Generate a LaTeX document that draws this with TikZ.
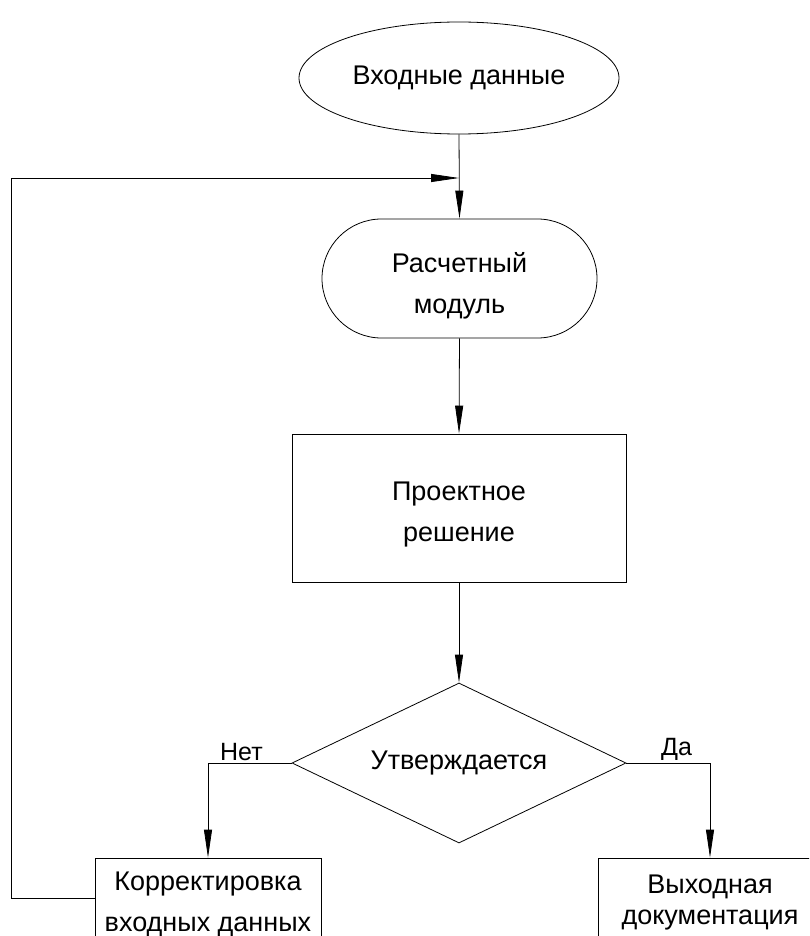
\documentclass[tikz,border=0pt]{standalone}
\usepackage{fontspec}
\setmainfont{Liberation Sans}
\usetikzlibrary{shapes.geometric,shapes.misc,arrows.meta}
\begin{document}
\begin{tikzpicture}[x=1pt,y=-1pt,
  every node/.style={font=\fontsize{27}{41}\selectfont},
  blk/.style={draw, line width=0.8pt, align=center, inner sep=0pt},
  line/.style={line width=0.8pt},
  arr/.style={line, -{Triangle[length=28pt,width=8pt]}},
  lbl/.style={font=\fontsize{25}{28}\selectfont, inner sep=2pt}]
\useasboundingbox (0,0) rectangle (809,936);
\clip (0,0) rectangle (809,936);

% blocks of the flow chart
\node[blk, ellipse, minimum width=320, minimum height=112] (in) at (459,78) {Входные данные};
\node[blk, rounded rectangle, minimum width=275, minimum height=119] (calc) at (459.5,278.5)
  {\rule{0pt}{34pt}Расчетный\\модуль};
\node[blk, rectangle, minimum width=334, minimum height=148] (proj) at (459,508)
  {\rule{0pt}{32pt}Проектное\\решение};
\node[blk, diamond, aspect=2.1, minimum width=334, minimum height=160] (dec) at (459,763) {Утверждается};
\node[blk, rectangle, minimum width=226, minimum height=92] (fix) at (208,904) {Корректировка\\входных данных};
\node[blk, rectangle, minimum width=224, minimum height=90,
      font=\fontsize{27}{31}\selectfont] (out) at (710,903) {Выходная\\документация};

% junction where the correction loop returns
\coordinate (join) at (459,178);

% connectors
\draw[arr] (in.south) -- (calc.north);
\draw[arr] (calc.south) -- (proj.north);
\draw[arr] (proj.south) -- (dec.north);
\draw[arr] (dec.west) -| node[lbl, pos=0.3, above] (no) {Нет} (fix.north);
\draw[arr] (dec.east) -| node[lbl, pos=0.3, above] (yes) {Да} (out.north);
\draw[arr] ([yshift=6pt]fix.west) -- ++(-83,0) |- (join);
\end{tikzpicture}
\end{document}
